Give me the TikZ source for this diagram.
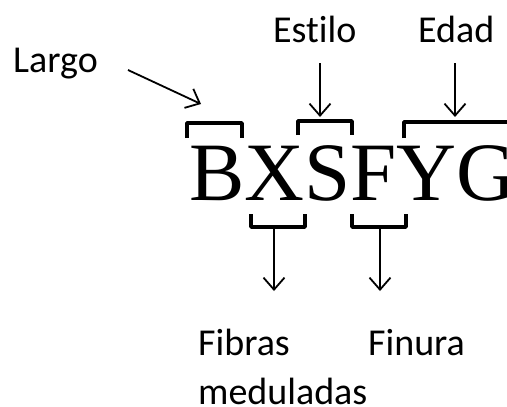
\documentclass[tikz,border=0pt]{standalone}
\usepackage{fontspec}
\setmainfont{Carlito}[Ligatures=NoCommon]
\newfontfamily\codefont{Liberation Serif}
\usetikzlibrary{arrows.meta}
\begin{document}
\begin{tikzpicture}[x=1pt,y=-1pt,
  lbl/.style={anchor=base west, inner sep=0pt, font=\fontsize{38}{49}\selectfont},
  brk/.style={line width=3.6pt, line join=round},
  arr/.style={line width=1.8pt, -{Straight Barb[length=12pt,width=21pt,line width=1.8pt]}}]
\useasboundingbox (0,0) rectangle (507,407);
% labels
\node[lbl] (largo) at (13,72) {Largo};
\node[lbl] (estilo) at (273,42) {Estilo};
\node[lbl] (edad) at (418,42) {Edad};
\node[lbl, align=left] (fibras) at (198,404) {Fibras\\meduladas};
\node[lbl] (finura) at (368,355) {Finura};
% code
\node[anchor=base west, inner sep=0pt, font=\codefont\fontsize{83}{83}\selectfont] (code) at (189,200) {BXSFYG};
% brackets
\coordinate (bA1) at (187,138); \coordinate (bA2) at (242,138);
\draw[brk] (bA1) -- (187,123) -- (242,123) -- (bA2);
\coordinate (bB1) at (298,135); \coordinate (bB2) at (352,135);
\draw[brk] (bB1) -- (298,121) -- (352,121) -- (bB2);
\coordinate (bC1) at (404,138);
\draw[brk] (bC1) -- (404,122) -- (507,122);
\coordinate (bD1) at (251,214); \coordinate (bD2) at (305,214);
\coordinate (bDm) at (274,227);
\draw[brk] (bD1) -- (251,227) -- (305,227) -- (bD2);
\coordinate (bE1) at (352,214); \coordinate (bE2) at (406,214);
\coordinate (bEm) at (380,227);
\draw[brk] (bE1) -- (352,227) -- (406,227) -- (bE2);
% arrows
\coordinate (aL0) at (128,70); \coordinate (aL1) at (201,104);
\draw[arr] (aL0) -- (aL1);
\coordinate (aS0) at (320,63); \coordinate (aS1) at (320,117);
\draw[arr] (aS0) -- (aS1);
\coordinate (aE0) at (455,63); \coordinate (aE1) at (455,117);
\draw[arr] (aE0) -- (aE1);
\coordinate (aF1) at (274,291);
\draw[arr] (bDm) -- (aF1);
\coordinate (aN1) at (380,291);
\draw[arr] (bEm) -- (aN1);
\end{tikzpicture}
\end{document}
